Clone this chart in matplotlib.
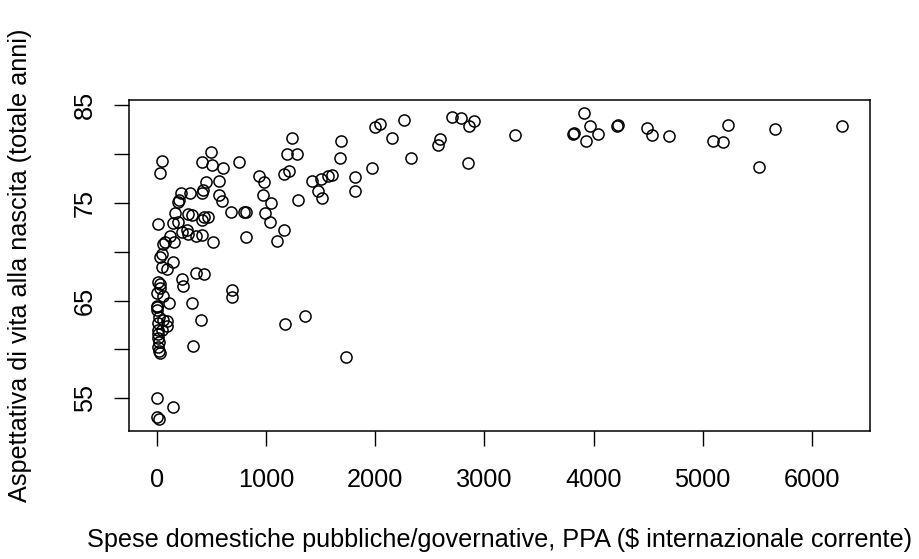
import matplotlib
matplotlib.use("Agg")
import matplotlib.pyplot as plt

# spesa sanitaria pubblica pro capite (PPA) vs aspettativa di vita
spesa_alta = [2705, 2788, 2863, 2910, 2848, 3278, 3912, 3810, 3825, 3972,
              4040, 3935, 4223, 4218, 4493, 4535, 4692, 5228, 5095, 5187,
              5515, 5665, 6276]
vita_alta = [83.8, 83.7, 82.8, 83.4, 79.1, 81.9, 84.2, 82.0, 82.1, 82.8,
             82.0, 81.3, 83.0, 82.8, 82.6, 81.9, 81.8, 83.0, 81.3, 81.2,
             78.7, 82.5, 82.9]

spesa_media = [935, 982, 970, 1043, 991, 1036, 1164, 1097, 1238, 1190,
               1281, 1165, 1213, 1290, 1418, 1503, 1570, 1606, 1479, 1510,
               1692, 1676, 1820, 1813, 1976, 1996, 2042, 2262, 2155, 2326,
               2590, 2575, 1174, 1356, 1738]
vita_media = [77.7, 77.1, 75.8, 75.0, 74.0, 73.0, 72.2, 71.1, 81.6, 80.0,
              80.0, 77.9, 78.3, 75.3, 77.2, 77.4, 77.7, 77.8, 76.2, 75.5,
              81.3, 79.6, 77.6, 76.2, 78.6, 82.7, 83.1, 83.5, 81.6, 79.6,
              81.5, 80.9, 62.6, 63.4, 59.2]

spesa_bassa = [47, 32, 494, 417, 503, 603, 752, 451, 569, 426,
               412, 305, 223, 569, 594, 205, 198, 679, 797, 822,
               168, 284, 321, 435, 472, 412, 16, 153, 198, 229,
               275, 290, 412, 357, 517, 822, 123, 77, 62, 162,
               47, 32, 153, 47, 93, 229, 238, 360, 433, 32,
               32, 2, 62, 2, 116, 321, 685, 685, 3, 403,
               16, 93, 16, 93, 16, 16, 25, 330, 32, 3,
               147, 3, 22, 14, 5, 20, 10, 22, 45, 60]
vita_bassa = [79.3, 78.0, 80.2, 79.2, 78.9, 78.6, 79.2, 77.1, 77.2, 76.3,
              76.0, 76.0, 76.0, 75.8, 75.2, 75.3, 75.1, 74.1, 74.1, 74.1,
              74.0, 73.9, 73.7, 73.5, 73.5, 73.2, 72.8, 72.9, 73.0, 72.0,
              72.2, 71.8, 71.7, 71.6, 71.0, 71.5, 71.6, 71.0, 70.8, 71.0,
              69.8, 69.5, 68.9, 68.4, 68.2, 67.2, 66.5, 67.8, 67.7, 66.7,
              66.3, 65.8, 65.5, 64.4, 64.7, 64.7, 66.1, 65.4, 64.3, 63.0,
              62.7, 62.9, 62.0, 62.4, 61.2, 60.3, 59.8, 60.4, 59.6, 55.0,
              54.1, 53.1, 52.9, 66.9, 64.0, 63.3, 61.6, 60.8, 62.0, 63.0]

x_ticks = [0, 1000, 2000, 3000, 4000, 5000, 6000]
y_ticks = [55, 60, 65, 70, 75, 80, 85]
y_labels = ["55", "", "65", "", "75", "", "85"]

spesa = spesa_bassa + spesa_media + spesa_alta
vita = vita_bassa + vita_media + vita_alta

plt.rcParams['font.family'] = ['Liberation Sans', 'DejaVu Sans']
fs = 18.2

fig = plt.figure(figsize=(9.2, 5.59), dpi=100)
ax = fig.add_axes([129.3 / 920, 1 - 431 / 559, (870 - 129.3) / 920, (431 - 100) / 559])

ax.plot(spesa, vita, linestyle="none", marker="o", markersize=8,
        markerfacecolor="none", markeredgecolor="black", markeredgewidth=1.1)

ax.set_xlim(-251, 6532)
ax.set_ylim(51.66, 85.51)
ax.set_xticks(x_ticks)
ax.set_xticklabels([str(t) for t in x_ticks])
ax.set_yticks(y_ticks)
ax.set_yticklabels(y_labels, rotation=90, va="center")

ax.tick_params(axis="both", direction="out", length=10.5, width=1.0,
               labelsize=fs, color="black")
ax.tick_params(axis="x", pad=16)
ax.tick_params(axis="y", pad=13)
for s in ax.spines.values():
    s.set_linewidth(1.1)

fig.text(499.5 / 920, 19 / 559,
         "Spese domestiche pubbliche/governative, PPA ($ internazionale corrente)",
         ha="center", va="center", fontsize=fs)
fig.text(20 / 920, 1 - 265.5 / 559,
         "Aspettativa di vita alla nascita (totale anni)",
         ha="center", va="center", rotation=90, fontsize=fs)

fig.savefig("out.png", dpi=100)
